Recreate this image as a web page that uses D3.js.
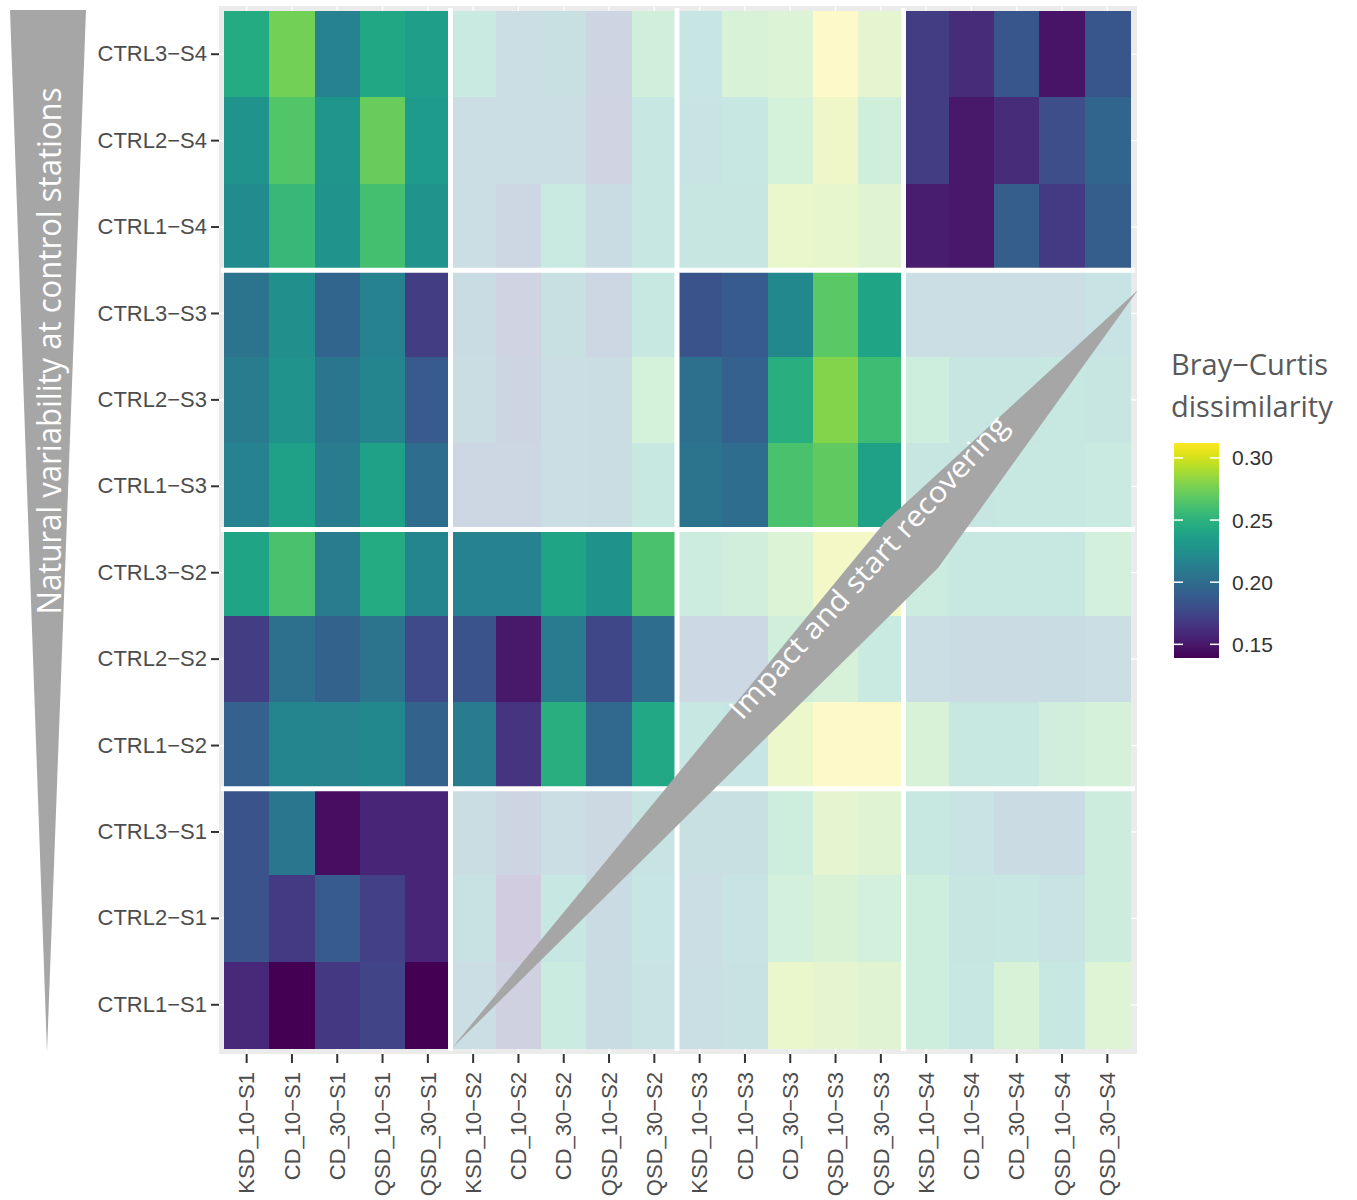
<!DOCTYPE html>
<html>
<head>
<meta charset="utf-8">
<script src="https://cdn.jsdelivr.net/npm/d3@7"></script>
<style>
  body { margin: 0; background: #fff; }
</style>
</head>
<body>
<svg id="chart" width="1357" height="1200"></svg>
<script>
(function (d3) {
    'use strict';

    // columns = impact stations, rows = control stations (top to bottom)
    const colLabels = ["KSD_10−S1", "CD_10−S1", "CD_30−S1", "QSD_10−S1", "QSD_30−S1",
                       "KSD_10−S2", "CD_10−S2", "CD_30−S2", "QSD_10−S2", "QSD_30−S2",
                       "KSD_10−S3", "CD_10−S3", "CD_30−S3", "QSD_10−S3", "QSD_30−S3",
                       "KSD_10−S4", "CD_10−S4", "CD_30−S4", "QSD_10−S4", "QSD_30−S4"];
    const rowLabels = ["CTRL3−S4", "CTRL2−S4", "CTRL1−S4",
                       "CTRL3−S3", "CTRL2−S3", "CTRL1−S3",
                       "CTRL3−S2", "CTRL2−S2", "CTRL1−S2",
                       "CTRL3−S1", "CTRL2−S1", "CTRL1−S1"];

    // Bray-Curtis dissimilarity, one array per control row
    const ctrl3S4 = [0.245, 0.275, 0.215, 0.242, 0.235, 0.245, 0.210, 0.215, 0.185, 0.260,
                     0.230, 0.270, 0.275, 0.310, 0.285, 0.170, 0.160, 0.185, 0.148, 0.185];
    const ctrl2S4 = [0.228, 0.265, 0.230, 0.272, 0.233, 0.210, 0.210, 0.210, 0.180, 0.235,
                     0.225, 0.235, 0.265, 0.295, 0.260, 0.170, 0.150, 0.160, 0.180, 0.195];
    const ctrl1S4 = [0.222, 0.255, 0.228, 0.260, 0.228, 0.210, 0.190, 0.245, 0.205, 0.235,
                     0.232, 0.232, 0.290, 0.288, 0.280, 0.152, 0.150, 0.190, 0.168, 0.190];
    const ctrl3S3 = [0.205, 0.225, 0.195, 0.215, 0.170, 0.205, 0.180, 0.215, 0.190, 0.240,
                     0.183, 0.188, 0.220, 0.268, 0.240, 0.210, 0.210, 0.210, 0.210, 0.225];
    const ctrl2S3 = [0.210, 0.228, 0.207, 0.218, 0.188, 0.207, 0.185, 0.210, 0.207, 0.265,
                     0.202, 0.192, 0.248, 0.280, 0.258, 0.255, 0.232, 0.232, 0.238, 0.232];
    const ctrl1S3 = [0.215, 0.238, 0.210, 0.238, 0.200, 0.190, 0.190, 0.210, 0.207, 0.238,
                     0.205, 0.200, 0.262, 0.270, 0.238, 0.232, 0.232, 0.237, 0.237, 0.245];
    const ctrl3S2 = [0.240, 0.262, 0.210, 0.245, 0.218, 0.215, 0.215, 0.240, 0.227, 0.262,
                     0.250, 0.258, 0.275, 0.300, 0.300, 0.250, 0.238, 0.238, 0.238, 0.262];
    const ctrl2S2 = [0.170, 0.202, 0.193, 0.205, 0.178, 0.183, 0.150, 0.210, 0.176, 0.200,
                     0.193, 0.193, 0.260, 0.268, 0.245, 0.210, 0.200, 0.200, 0.205, 0.210];
    const ctrl1S2 = [0.192, 0.218, 0.217, 0.220, 0.193, 0.210, 0.165, 0.248, 0.197, 0.243,
                     0.235, 0.230, 0.292, 0.310, 0.310, 0.270, 0.238, 0.238, 0.258, 0.267];
    const ctrl3S1 = [0.183, 0.207, 0.145, 0.157, 0.157, 0.207, 0.185, 0.210, 0.195, 0.228,
                     0.215, 0.215, 0.255, 0.285, 0.280, 0.240, 0.225, 0.200, 0.200, 0.252];
    const ctrl2S1 = [0.183, 0.168, 0.188, 0.172, 0.157, 0.222, 0.165, 0.235, 0.200, 0.230,
                     0.210, 0.225, 0.262, 0.272, 0.262, 0.255, 0.232, 0.235, 0.228, 0.252];
    const ctrl1S1 = [0.158, 0.139, 0.167, 0.174, 0.139, 0.210, 0.175, 0.248, 0.205, 0.225,
                     0.213, 0.220, 0.290, 0.285, 0.280, 0.255, 0.235, 0.270, 0.235, 0.277];

    const rows = [ctrl3S4, ctrl2S4, ctrl1S4, ctrl3S3, ctrl2S3, ctrl1S3,
                  ctrl3S2, ctrl2S2, ctrl1S2, ctrl3S1, ctrl2S1, ctrl1S1];

    const legendTicks = [0.15, 0.20, 0.25, 0.30];
    const colorDomain = [0.139, 0.312];

    const svg = d3.select('#chart');

    const x = d3.scaleBand().domain(colLabels).range([224, 1130]);
    const y = d3.scaleBand().domain(rowLabels).range([11, 1048]);
    const color = d3.scaleSequential(d3.interpolateViridis).domain(colorDomain);
    // non-focus blocks are washed out towards white
    const faded = v => d3.interpolateRgb(color(v), '#fff')(0.75);

    const group = s => s.slice(-2);

    // flatten to cells
    const cells = [];
    rows.forEach((r, i) => {
        r.forEach((v, j) => {
            const rg = group(rowLabels[i]), cg = group(colLabels[j]);
            cells.push({row: rowLabels[i], col: colLabels[j], value: v,
                        full: cg === "S1" || cg === rg});
        });
    });

    // panel background + grid lines (ggplot grey theme)
    svg.append('rect')
        .attr('x', 219).attr('y', 6)
        .attr('width', 1137 - 219).attr('height', 1054 - 6)
        .attr('fill', '#ebebeb');

    const grid = svg.append('g').attr('stroke', '#fff').attr('stroke-width', 1.2);
    grid.selectAll('line.v')
        .data(colLabels)
        .join('line')
        .attr('x1', d => x(d) + x.bandwidth() / 2)
        .attr('x2', d => x(d) + x.bandwidth() / 2)
        .attr('y1', 6).attr('y2', 1054);
    grid.selectAll('line.h')
        .data(rowLabels)
        .join('line')
        .attr('class', 'h')
        .attr('y1', d => y(d) + y.bandwidth() / 2)
        .attr('y2', d => y(d) + y.bandwidth() / 2)
        .attr('x1', 219).attr('x2', 1137);

    // tiles
    svg.append('g')
        .selectAll('rect')
        .data(cells)
        .join('rect')
        .attr('x', d => x(d.col))
        .attr('y', d => y(d.row))
        .attr('width', x.bandwidth() + 0.5)
        .attr('height', y.bandwidth() + 0.5)
        .attr('shape-rendering', 'crispEdges')
        .attr('fill', d => d.full ? color(d.value) : faded(d.value));

    // white separators between sampling times
    const sep = svg.append('g').attr('stroke', '#fff').attr('stroke-width', 5);
    [5, 10, 15].forEach(k => {
        const xx = x(colLabels[k]);
        sep.append('line').attr('x1', xx).attr('x2', xx).attr('y1', 8).attr('y2', 1051);
    });
    [3, 6, 9].forEach(k => {
        const yy = y(rowLabels[k]);
        sep.append('line').attr('y1', yy).attr('y2', yy).attr('x1', 221).attr('x2', 1135);
    });

    // axes
    const yAxis = svg.append('g')
        .attr('transform', 'translate(219,0)')
        .call(d3.axisLeft(y).tickSize(8).tickPadding(4));
    const xAxis = svg.append('g')
        .attr('transform', 'translate(0,1054)')
        .call(d3.axisBottom(x).tickSize(9).tickPadding(9));

    [yAxis, xAxis].forEach(a => {
        a.select('.domain').remove();
        a.selectAll('.tick line').attr('stroke', '#333').attr('stroke-width', 2);
        a.selectAll('.tick text')
            .attr('fill', '#4d4d4d')
            .style('font-family', '"Liberation Sans", Arial, sans-serif')
            .style('font-size', '22px');
    });
    xAxis.selectAll('.tick text')
        .attr('transform', 'rotate(-90)')
        .attr('text-anchor', 'end')
        .attr('x', -18)
        .attr('y', 0)
        .attr('dy', '0.35em');

    // colour legend
    const lg = {x: 1174, y0: 443, y1: 658, w: 45};
    const ly = d3.scaleLinear().domain(colorDomain).range([lg.y1, lg.y0]);
    const defs = svg.append('defs');
    const grad = defs.append('linearGradient')
        .attr('id', 'vgrad')
        .attr('x1', 0).attr('x2', 0).attr('y1', 1).attr('y2', 0);
    d3.range(0, 1.0001, 0.05).forEach(t => {
        grad.append('stop').attr('offset', t).attr('stop-color', d3.interpolateViridis(t));
    });
    svg.append('rect')
        .attr('x', lg.x).attr('y', lg.y0)
        .attr('width', lg.w).attr('height', lg.y1 - lg.y0)
        .attr('fill', 'url(#vgrad)');

    const lt = svg.append('g');
    lt.selectAll('line.l')
        .data(legendTicks)
        .join('line')
        .attr('x1', lg.x).attr('x2', lg.x + 9)
        .attr('y1', d => ly(d)).attr('y2', d => ly(d))
        .attr('stroke', '#fff').attr('stroke-width', 1.5);
    lt.selectAll('line.r')
        .data(legendTicks)
        .join('line')
        .attr('class', 'r')
        .attr('x1', lg.x + lg.w - 9).attr('x2', lg.x + lg.w)
        .attr('y1', d => ly(d)).attr('y2', d => ly(d))
        .attr('stroke', '#fff').attr('stroke-width', 1.5);
    lt.selectAll('text')
        .data(legendTicks)
        .join('text')
        .attr('x', 1232)
        .attr('y', d => ly(d))
        .attr('dy', '0.36em')
        .attr('fill', '#333')
        .style('font-family', '"Liberation Sans", Arial, sans-serif')
        .style('font-size', '21px')
        .text(d3.format('.2f'));

    const title = svg.append('text')
        .attr('fill', '#595959')
        .style('font-family', '"Open Sans", sans-serif')
        .style('font-size', '29px');
    title.append('tspan').attr('x', 1171).attr('y', 375).text('Bray−Curtis');
    title.append('tspan').attr('x', 1171).attr('y', 417).text('dissimilarity');

    // annotation shapes
    const annGrey = '#a6a6a6';
    svg.append('polygon')
        .attr('points', [[10, 10], [86, 10], [47, 1052]].join(' '))
        .attr('fill', annGrey);
    svg.append('text')
        .attr('transform', 'translate(61,351) rotate(-90)')
        .attr('text-anchor', 'middle')
        .attr('fill', '#fff')
        .attr('textLength', 527)
        .attr('lengthAdjust', 'spacingAndGlyphs')
        .style('font-family', '"Open Sans", sans-serif')
        .style('font-size', '33px')
        .text('Natural variability at control stations');

    svg.append('polygon')
        .attr('points', [[452, 1048], [885, 522], [1138, 290], [938, 568]].join(' '))
        .attr('fill', annGrey);
    svg.append('text')
        .attr('transform', 'translate(876,574) rotate(-47.7)')
        .attr('text-anchor', 'middle')
        .attr('fill', '#fff')
        .attr('textLength', 398)
        .attr('lengthAdjust', 'spacingAndGlyphs')
        .style('font-family', '"Open Sans", sans-serif')
        .style('font-size', '29px')
        .text('Impact and start recovering');

}(d3));
</script>
</body>
</html>
